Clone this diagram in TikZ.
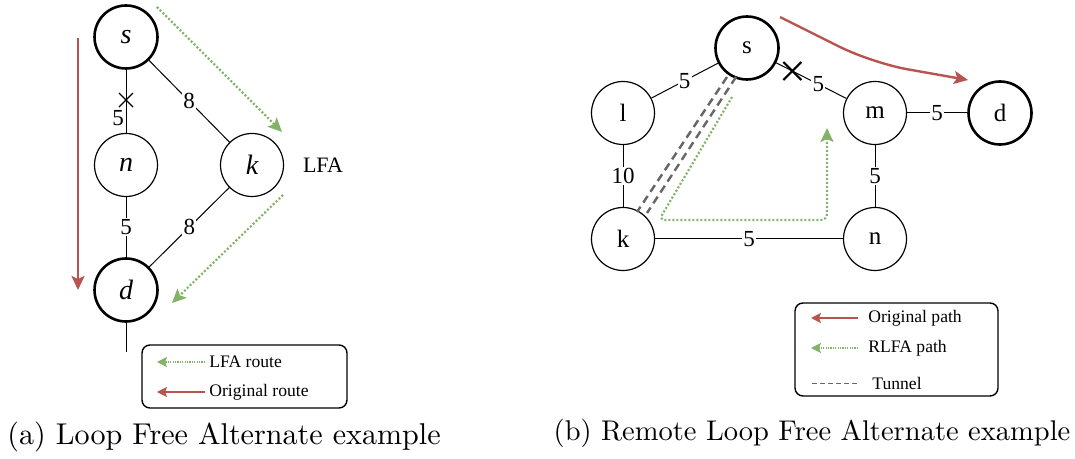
\documentclass[tikz,border=0pt]{standalone}
\usepackage{fontspec}
\newfontfamily\diag{Liberation Serif}
\newfontfamily\capfont{lmroman10-regular}[Extension=.otf]
\usetikzlibrary{arrows.meta}
\definecolor{redarr}{HTML}{B85450}
\definecolor{greenarr}{HTML}{82B366}
\definecolor{tungray}{HTML}{666666}
\begin{document}
\begin{tikzpicture}[x=0.5pt,y=-0.5pt,
  vtx/.style={circle,draw,line width=0.6pt,minimum size=31.5pt,inner sep=0pt,font=\diag\fontsize{12.5}{14}\selectfont},
  vtxb/.style={vtx,line width=1.3pt},
  ivtx/.style={vtx,font=\diag\itshape\fontsize{14}{16}\selectfont},
  ivtxb/.style={ivtx,line width=1.3pt},
  lab/.style={fill=white,inner sep=0.6pt,font=\diag\fontsize{11.5}{13}\selectfont},
  edge/.style={line width=0.5pt},
  redarrow/.style={draw=redarr,line width=1.2pt,-{Stealth[length=7pt,width=6.5pt,inset=1.5pt]}},
  greenarrow/.style={draw=greenarr,line width=1.1pt,dash pattern=on 1pt off 1pt,-{Stealth[length=7pt,width=6.5pt,inset=1.5pt]}},
  lgred/.style={draw=redarr,line width=0.6pt,-{Stealth[length=5pt,width=5pt,inset=1pt]}},
  lggreen/.style={draw=greenarr,line width=0.6pt,dash pattern=on 0.6pt off 0.6pt,-{Stealth[length=5pt,width=5pt,inset=1pt]}},
  lgtext/.style={anchor=west,inner sep=0pt,font=\diag\fontsize{8.8}{10}\selectfont},
  legendbox/.style={draw,line width=0.7pt,rounded corners=4pt},
  xmark/.style={line width=0.6pt},
  tunnel/.style={draw=tungray,line width=1.2pt,dash pattern=on 4pt off 2.5pt}
]
\useasboundingbox (0,0) rectangle (1075,459);

% ---------- (a) ----------
\node[ivtxb] (as) at (126,37) {s};
\node[ivtx] (an) at (126,165) {n};
\node[ivtx] (ak) at (252,165) {k};
\node[ivtxb] (ad) at (126,290) {d};
\node[font=\diag\fontsize{11}{13}\selectfont] (lfa) at (323,165) {LFA};

\draw[edge] (as) -- coordinate[pos=0.48] (ax) (an);
\node[lab,fill=none] (asn) at (118,118) {5};
\draw[xmark] ([xshift=-3.5pt,yshift=3.5pt]ax) -- ([xshift=3.5pt,yshift=-3.5pt]ax)
             ([xshift=-3.5pt,yshift=-3.5pt]ax) -- ([xshift=3.5pt,yshift=3.5pt]ax);
\draw[edge] (an) -- node[lab] (and) {5} (ad);
\draw[edge] (as) -- node[lab] (ask) {8} (ak);
\draw[edge] (ak) -- node[lab] (akd) {8} (ad);
\coordinate (adtail) at (126,352);
\draw[edge] (ad) -- (adtail);

\coordinate (ar1) at (78,38);
\coordinate (ar2) at (78,290);
\draw[redarrow] (ar1) -- (ar2);
\coordinate (ag1) at (157,7);
\coordinate (ag2) at (282,132);
\draw[greenarrow] (ag1) -- (ag2);
\coordinate (ag3) at (283,195);
\coordinate (ag4) at (172,303);
\draw[greenarrow] (ag3) -- (ag4);

\draw[legendbox] (142,345) rectangle (347,408);
\coordinate (lg1a) at (205,362); \coordinate (lg1b) at (157,362);
\draw[lggreen] (lg1a) -- (lg1b);
\node[lgtext] (lg1t) at (209,362) {LFA route};
\coordinate (lg2a) at (205,392); \coordinate (lg2b) at (157,392);
\draw[lgred] (lg2a) -- (lg2b);
\node[lgtext] (lg2t) at (209,392) {Original route};

\node[inner sep=0pt,font=\capfont\fontsize{15.05}{18}\selectfont] (capa) at (224,437) {(a) Loop Free Alternate example};

% ---------- (b) ----------
\node[vtxb] (bs) at (747,48) {s};
\node[vtx] (bl) at (623,113) {l};
\node[vtx] (bm) at (875,113) {m};
\node[vtxb] (bd) at (1000,113) {d};
\node[vtx] (bk) at (623,239) {k};
\node[vtx] (bn) at (875,239) {n};

\draw[edge] (bs) -- node[lab] (bsl) {5} (bl);
\draw[edge] (bs) -- coordinate[pos=0.23] (bx) node[lab,pos=0.6] (bsm) {5} (bm);
\draw[line width=1.1pt] ([xshift=-4.5pt,yshift=4.5pt]bx) -- ([xshift=4.5pt,yshift=-4.5pt]bx)
             ([xshift=-4.5pt,yshift=-4.5pt]bx) -- ([xshift=4.5pt,yshift=4.5pt]bx);
\draw[edge] (bm) -- node[lab] (bmd) {5} (bd);
\draw[edge] (bl) -- node[lab] (blk) {10} (bk);
\draw[edge] (bm) -- node[lab] (bmn) {5} (bn);
\draw[edge] (bk) -- node[lab] (bkn) {5} (bn);

\coordinate (t1a) at (727,77); \coordinate (t1b) at (637,212);
\coordinate (t2a) at (736,77); \coordinate (t2b) at (647,213);
\draw[tunnel] (t1a) -- (t1b);
\draw[tunnel] (t2a) -- (t2b);

\coordinate (g1) at (732,97);
\coordinate (g2) at (659,220);
\coordinate (g3) at (827,220);
\coordinate (g4) at (827,128);
\draw[greenarrow,rounded corners=3pt] (g1) -- (g2) -- (g3) -- (g4);

\coordinate (r1) at (780,17);
\coordinate (r2) at (872,63);
\coordinate (r3) at (968,80);
\draw[redarrow,rounded corners=18pt] (r1) -- (r2) -- (r3);

\draw[legendbox] (795,303) rectangle (998,396);
\coordinate (lb1a) at (858,318); \coordinate (lb1b) at (811,318);
\draw[lgred] (lb1a) -- (lb1b);
\node[lgtext] (lb1t) at (868,318) {Original path};
\coordinate (lb2a) at (858,348); \coordinate (lb2b) at (811,348);
\draw[lggreen] (lb2a) -- (lb2b);
\node[lgtext] (lb2t) at (868,348) {RLFA path};
\coordinate (lb3a) at (812,383); \coordinate (lb3b) at (858,383);
\draw[draw=tungray,line width=0.5pt,dash pattern=on 2.5pt off 1.5pt] (lb3a) -- (lb3b);
\node[lgtext] (lb3t) at (872,383) {Tunnel};

\node[inner sep=0pt,font=\capfont\fontsize{14.25}{17}\selectfont] (capb) at (812,433) {(b) Remote Loop Free Alternate example};
\end{tikzpicture}
\end{document}
